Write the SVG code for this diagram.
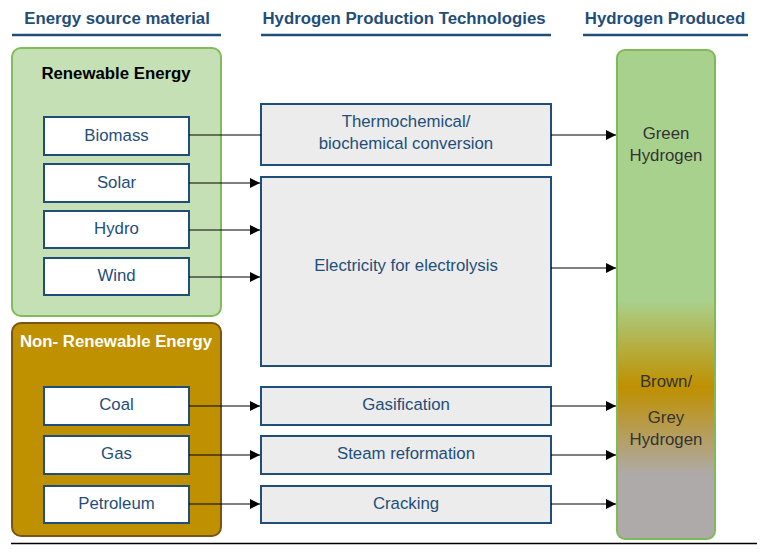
<svg xmlns="http://www.w3.org/2000/svg" width="764" height="552" viewBox="0 0 764 552">
<style>
text{font-family:"Liberation Sans",Arial,sans-serif;font-size:16.8px;text-anchor:middle}
.hdr{font-weight:bold;fill:#1f4e79}
.hline{stroke:#1f4e79;stroke-width:2.5}
.src{fill:#ffffff;stroke:#1f4e79;stroke-width:2}
.tech{fill:#ececec;stroke:#1f4e79;stroke-width:2}
.lbl{fill:#1f4e79}
.out{fill:#333333}
.con{stroke:#000;stroke-width:1;fill:none}
</style>
<defs>
<marker id="ah" viewBox="0 0 10 10" refX="10" refY="5" markerWidth="10" markerHeight="10" markerUnits="userSpaceOnUse" orient="auto">
<path d="M0,0 L10,5 L0,10 z" fill="#000"/>
</marker>
<linearGradient id="hg" x1="0" y1="0" x2="0" y2="1">
<stop offset="0" stop-color="#a9d18e"/>
<stop offset="0.51" stop-color="#a9d18e"/>
<stop offset="0.69" stop-color="#bf9000"/>
<stop offset="0.87" stop-color="#aeaaaa"/>
<stop offset="1" stop-color="#aeaaaa"/>
</linearGradient>
</defs>
<rect width="764" height="552" fill="#ffffff"/>
<g id="headers">
<text class="hdr" x="117" y="24">Energy source material</text>
<line class="hline" x1="12" y1="35" x2="221" y2="35"/>
<text class="hdr" x="404" y="24">Hydrogen Production Technologies</text>
<line class="hline" x1="261" y1="35" x2="551" y2="35"/>
<text class="hdr" x="665" y="24">Hydrogen Produced</text>
<line class="hline" x1="583" y1="35" x2="748" y2="35"/>
</g>
<g id="renewable">
<rect x="12" y="48" width="209" height="268" rx="9" fill="#c5e0b4" stroke="#82bb5a" stroke-width="2"/>
<text x="116" y="79" font-weight="bold" fill="#000">Renewable Energy</text>
</g>
<g id="nonrenewable">
<rect x="12" y="323" width="209" height="213" rx="9" fill="#bf9000" stroke="#7a5418" stroke-width="2"/>
<text x="116" y="347" font-weight="bold" fill="#ffffff">Non- Renewable Energy</text>
</g>
<g id="biomass"><rect class="src" x="44" y="117" width="145" height="38"/><text class="lbl" x="116.5" y="141">Biomass</text></g>
<g id="solar"><rect class="src" x="44" y="164" width="145" height="38"/><text class="lbl" x="116.5" y="188">Solar</text></g>
<g id="hydro"><rect class="src" x="44" y="211" width="145" height="37"/><text class="lbl" x="116.5" y="234">Hydro</text></g>
<g id="wind"><rect class="src" x="44" y="258" width="145" height="37"/><text class="lbl" x="116.5" y="281">Wind</text></g>
<g id="coal"><rect class="src" x="44" y="387" width="145" height="38"/><text class="lbl" x="116.5" y="410">Coal</text></g>
<g id="gas"><rect class="src" x="44" y="436" width="145" height="38"/><text class="lbl" x="116.5" y="459">Gas</text></g>
<g id="petroleum"><rect class="src" x="44" y="486" width="145" height="37"/><text class="lbl" x="116.5" y="509">Petroleum</text></g>
<g id="thermo"><rect class="tech" x="261" y="104" width="290" height="61"/><text class="lbl" x="406" y="127">Thermochemical/</text><text class="lbl" x="406" y="149">biochemical conversion</text></g>
<g id="electricity"><rect class="tech" x="261" y="177" width="290" height="189"/><text class="lbl" x="406" y="271">Electricity for electrolysis</text></g>
<g id="gasification"><rect class="tech" x="261" y="387" width="290" height="38"/><text class="lbl" x="406" y="410">Gasification</text></g>
<g id="steam"><rect class="tech" x="261" y="436" width="290" height="38"/><text class="lbl" x="406" y="459">Steam reformation</text></g>
<g id="cracking"><rect class="tech" x="261" y="486" width="290" height="37"/><text class="lbl" x="406" y="509">Cracking</text></g>
<g id="hydrogen">
<rect x="617" y="50" width="98" height="489" rx="8" fill="url(#hg)" stroke="#7fba56" stroke-width="2"/>
<text class="out" x="666" y="139">Green</text>
<text class="out" x="666" y="161">Hydrogen</text>
<text class="out" x="666" y="387">Brown/</text>
<text class="out" x="666" y="423">Grey</text>
<text class="out" x="666" y="445">Hydrogen</text>
</g>
<g id="connectors">
<line class="con" x1="189" y1="135" x2="261" y2="135"/>
<line class="con" x1="189" y1="183" x2="260" y2="183" marker-end="url(#ah)"/>
<line class="con" x1="189" y1="230" x2="260" y2="230" marker-end="url(#ah)"/>
<line class="con" x1="189" y1="277" x2="260" y2="277" marker-end="url(#ah)"/>
<line class="con" x1="189" y1="406" x2="260" y2="406" marker-end="url(#ah)"/>
<line class="con" x1="189" y1="455" x2="260" y2="455" marker-end="url(#ah)"/>
<line class="con" x1="189" y1="504" x2="260" y2="504" marker-end="url(#ah)"/>
<line class="con" x1="551" y1="135" x2="616" y2="135" marker-end="url(#ah)"/>
<line class="con" x1="551" y1="268" x2="616" y2="268" marker-end="url(#ah)"/>
<line class="con" x1="551" y1="406" x2="616" y2="406" marker-end="url(#ah)"/>
<line class="con" x1="551" y1="455" x2="616" y2="455" marker-end="url(#ah)"/>
<line class="con" x1="551" y1="504" x2="616" y2="504" marker-end="url(#ah)"/>
</g>
<line x1="11" y1="543.5" x2="757" y2="543.5" stroke="#000" stroke-width="1.5"/>
</svg>
